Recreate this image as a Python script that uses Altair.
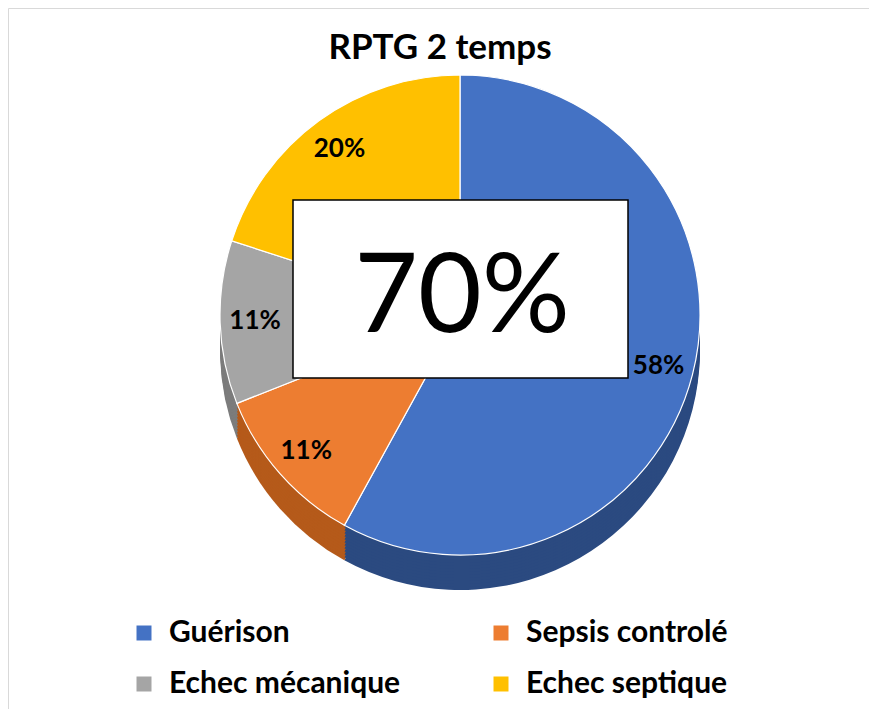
import altair as alt
import pandas as pd

categories = ["Guérison", "Sepsis controlé", "Echec mécanique", "Echec septique"]
values = [58, 11, 11, 20]
labels = ["58%", "11%", "11%", "20%"]
top_colors = ["#4472C4", "#ED7D31", "#A5A5A5", "#FFC000"]
side_colors = ["#2B4A80", "#B55A1A", "#7C7C7C", "#BF9000"]
title_text = "RPTG 2 temps"
center_text = "70%"

df = pd.DataFrame({
    "cat": categories,
    "value": values,
    "label": labels,
    "idx": list(range(len(categories))),
})

W, H = 861, 701
CX, CY, R, DEPTH = 452, 307, 240, 35
FONT = "Lato"

base = alt.Chart(df)
theta = alt.Theta("value:Q", stack=True)
order = alt.Order("idx:Q")

layers = []
for off in range(DEPTH, 0, -3):
    layers.append(
        base.mark_arc(outerRadius=R).encode(
            theta=theta,
            order=order,
            color=alt.Color("cat:N", scale=alt.Scale(domain=categories, range=side_colors), legend=None),
            x=alt.value(CX),
            y=alt.value(CY + off),
        )
    )

top = base.mark_arc(outerRadius=R, stroke="white", strokeWidth=1.2).encode(
    theta=theta,
    order=order,
    color=alt.Color(
        "cat:N",
        scale=alt.Scale(domain=categories, range=top_colors),
        legend=alt.Legend(
            title=None, orient="none", legendX=121, legendY=610, columns=2, direction="horizontal",
            symbolType="square", symbolSize=225, symbolStrokeWidth=0,
            labelFont=FONT, labelFontSize=30, labelFontWeight="bold", labelColor="black",
            labelLimit=400, labelOffset=10, columnPadding=85, rowPadding=21,
        ),
    ),
    x=alt.value(CX),
    y=alt.value(CY),
)
layers.append(top)

lab = base.mark_text(radius=205, font=FONT, fontSize=26, fontWeight="bold", color="black").encode(
    theta=theta, order=order, text="label:N", x=alt.value(CX), y=alt.value(CY)
)
layers.append(lab)

ann = alt.Chart(pd.DataFrame({"t": [center_text], "title": [title_text]}))
box = ann.mark_rect(fill="white", stroke="black", strokeWidth=1.5).encode(
    x=alt.value(285), x2=alt.value(620), y=alt.value(192), y2=alt.value(370)
)
big = ann.mark_text(font=FONT, fontSize=110, color="black", align="center", baseline="alphabetic").encode(
    text="t:N", x=alt.value(454), y=alt.value(324)
)
ttl = ann.mark_text(font=FONT, fontSize=35, fontWeight="bold", color="black", align="center", baseline="alphabetic").encode(
    text="title:N", x=alt.value(432), y=alt.value(51)
)
layers += [box, big, ttl]

chart = alt.layer(*layers).resolve_scale(color="independent").properties(
    width=W, height=H, autosize=alt.AutoSizeParams(type="none"), padding=0, background="white"
).configure_view(stroke="#D9D9D9", strokeWidth=1)

chart.save("out.html", embed_options={"renderer": "svg", "actions": False})
